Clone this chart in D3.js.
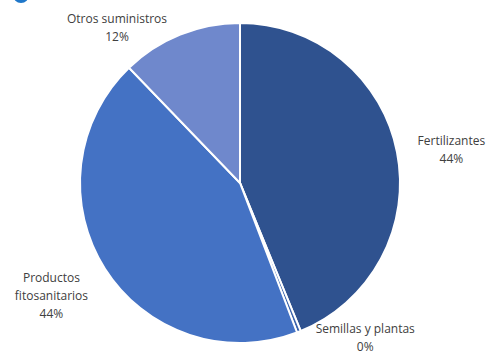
<!DOCTYPE html>
<html>
<head>
<meta charset="utf-8">
<script src="https://cdn.jsdelivr.net/npm/d3@7"></script>
<style>
  body { margin: 0; background: #fff; }
  text { font-family: "Open Sans", sans-serif; font-size: 12px; fill: #404040; }
</style>
</head>
<body>
<div id="chart"></div>
<script>
// data
var categories = ["Fertilizantes", "Semillas y plantas", "Productos fitosanitarios", "Otros suministros"];
var shares = [43.8, 0.4, 43.6, 12.2];
var pctLabels = ["44%", "0%", "44%", "12%"];
var labelLines = [["Fertilizantes"], ["Semillas y plantas"], ["Productos", "fitosanitarios"], ["Otros suministros"]];

var colors = ["#2f528f", "#3b64ad", "#4472c4", "#6f88cc"];
// where each label sits: angle (deg from top) and radius
var labelPos = [
  {a: 81, r: 214},
  {a: 141, r: 199},
  {a: 239, r: 220},
  {a: 321.6, r: 198}
];

var width = 489, height = 361;
var cx = 240, cy = 183, radius = 160;

var svg = d3.select("#chart").append("svg")
  .attr("width", width)
  .attr("height", height);

// bit of a blue marker cut off at the top-left corner
svg.append("circle")
  .attr("cx", 21).attr("cy", -5).attr("r", 8)
  .attr("fill", "#1f77c9");

var g = svg.append("g")
  .attr("transform", `translate(${cx}, ${cy})`);

var data = categories.map((c, i) => ({name: c, value: shares[i], idx: i}));

var pie = d3.pie().sort(null).value(d => d.value);
var arc = d3.arc().innerRadius(0).outerRadius(radius);

g.selectAll("path")
  .data(pie(data))
  .enter()
  .append("path")
  .attr("d", arc)
  .attr("fill", d => colors[d.data.idx])
  .attr("stroke", "#fff")
  .attr("stroke-width", 2)
  .attr("stroke-linejoin", "round");

var labels = g.selectAll("text.lbl")
  .data(data)
  .enter()
  .append("text")
  .attr("class", "lbl")
  .attr("text-anchor", "middle")
  .attr("transform", d => {
    var p = labelPos[d.idx];
    var a = p.a * Math.PI / 180;
    return `translate(${p.r * Math.sin(a)}, ${-p.r * Math.cos(a)})`;
  });

labels.each(function(d) {
  var lines = labelLines[d.idx].concat([pctLabels[d.idx]]);
  var t = d3.select(this);
  var n = lines.length;
  lines.forEach((ln, k) => {
    t.append("tspan")
      .attr("x", 0)
      .attr("y", (k - (n - 1) / 2) * 18 + 4)
      .text(ln);
  });
});
</script>
</body>
</html>
